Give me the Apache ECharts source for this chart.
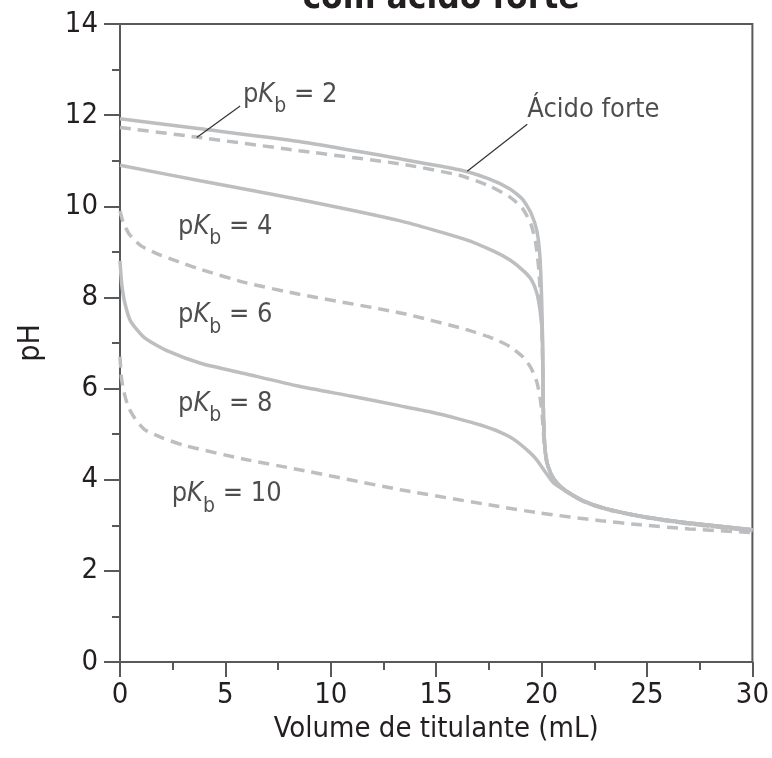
<!DOCTYPE html>
<html>
<head>
<meta charset="utf-8">
<script src="https://cdn.jsdelivr.net/npm/echarts@6/dist/echarts.min.js"></script>
<style>
  html, body { margin: 0; padding: 0; background: #fff; }
  #main { width: 772px; height: 758px; }
</style>
</head>
<body>
<div id="main"></div>
<script>
// curvas de titulação: [volume (mL), pH]
const acidoForte = [[0, 11.92], [3.8, 11.7], [8.5, 11.42], [13.3, 11.04], [16.1, 10.8], [17.5, 10.6], [18.5, 10.38], [19.1, 10.15], [19.5, 9.85], [19.78, 9.45], [19.92, 8.9], [20.0, 8.0], [20.05, 7.0], [20.08, 5.6], [20.14, 4.8], [20.24, 4.4], [20.45, 4.12], [20.75, 3.92], [21.2, 3.74], [22, 3.53], [23, 3.37], [24.7, 3.2], [27, 3.05], [30, 2.9]];
const pKb2 = [[0, 11.73], [3.6, 11.52], [8.5, 11.22], [13.3, 10.93], [16.1, 10.68], [17.5, 10.45], [18.5, 10.2], [19.1, 9.95], [19.5, 9.6], [19.72, 9.2], [19.87, 8.6], [19.97, 7.8], [20.03, 7.0], [20.08, 5.6], [20.14, 4.8], [20.24, 4.4], [20.45, 4.12], [20.75, 3.92], [21.2, 3.73], [22, 3.52], [23, 3.36], [24.7, 3.19], [27, 3.03], [30, 2.88]];
const pKb4 = [[0, 10.9], [3.8, 10.56], [8.5, 10.15], [13.3, 9.68], [16.4, 9.27], [17.7, 9.02], [18.5, 8.82], [19.1, 8.6], [19.5, 8.4], [19.77, 8.1], [19.93, 7.7], [20.03, 7.2], [20.08, 5.6], [20.14, 4.8], [20.24, 4.4], [20.45, 4.12], [20.75, 3.92], [21.2, 3.74], [22, 3.53], [23, 3.37], [24.7, 3.2], [27, 3.05], [30, 2.9]];
const pKb6 = [[0, 9.9], [0.15, 9.65], [0.45, 9.38], [1.0, 9.13], [1.8, 8.95], [2.8, 8.78], [3.8, 8.62], [5.9, 8.33], [8.5, 8.07], [13.3, 7.66], [16.4, 7.3], [17.7, 7.1], [18.5, 6.92], [19.1, 6.7], [19.5, 6.45], [19.77, 6.15], [19.93, 5.8], [20.03, 5.4], [20.09, 5.0], [20.15, 4.7], [20.24, 4.45], [20.45, 4.12], [20.75, 3.92], [21.2, 3.73], [22, 3.52], [23, 3.36], [24.7, 3.19], [27, 3.03], [30, 2.88]];
const pKb8 = [[0, 8.8], [0.08, 8.3], [0.22, 7.9], [0.5, 7.48], [1.17, 7.11], [2.28, 6.82], [3.86, 6.55], [5.9, 6.33], [8.5, 6.05], [11, 5.83], [13.3, 5.62], [14.7, 5.49], [16.1, 5.33], [17.1, 5.2], [18, 5.05], [18.7, 4.88], [19.46, 4.59], [19.8, 4.42], [20.1, 4.22], [20.57, 3.93], [21.2, 3.74], [22, 3.53], [23, 3.37], [24.7, 3.2], [27, 3.05], [30, 2.9]];
const pKb10 = [[0, 6.7], [0.06, 6.27], [0.15, 6.0], [0.38, 5.61], [0.7, 5.35], [1.17, 5.1], [2.0, 4.92], [3.07, 4.75], [5.9, 4.45], [8.5, 4.22], [13.3, 3.78], [18, 3.41], [19.9, 3.27], [22.8, 3.1], [24.7, 3.01], [27, 2.92], [30, 2.84]];

const rotulos = ['{p|p}{k|K}{s|b}{p| = 2}', 'Ácido forte', '{p|p}{k|K}{s|b}{p| = 4}', '{p|p}{k|K}{s|b}{p| = 6}', '{p|p}{k|K}{s|b}{p| = 8}', '{p|p}{k|K}{s|b}{p| = 10}'];

const FONT = '"Liberation Sans Narrow", "DejaVu Sans Condensed", sans-serif';
const CINZA = '#bcbec0';
const EIXO = '#58595b';
const TEXTO = '#231f20';

const chart = echarts.init(document.getElementById('main'));

function curva(data, tracejada) {
  return {
    type: 'line',
    data: data,
    showSymbol: false,
    symbol: 'none',
    smooth: 0.2,
    lineStyle: { color: CINZA, width: 3.5, type: tracejada ? [11, 7] : 'solid', cap: 'butt' }
  };
}

const richTxt = {
  p: { fontSize: 27, fontFamily: FONT, color: TEXTO, lineHeight: 28, verticalAlign: 'top' },
  k: { fontSize: 27, fontFamily: FONT, fontStyle: 'italic', color: TEXTO, lineHeight: 28, verticalAlign: 'top' },
  s: { fontSize: 21, fontFamily: FONT, color: TEXTO, lineHeight: 36, verticalAlign: 'bottom' }
};

const guia = { color: '#333', width: 1.2, type: 'solid' };

const option = {
  animation: false,
  backgroundColor: '#fff',
  title: {
    text: 'com ácido forte',
    left: 436,
    textAlign: 'center',
    top: -24,
    textStyle: { fontFamily: FONT, fontWeight: 'bold', fontSize: 35, color: TEXTO }
  },
  grid: {
    left: 120, right: 19, top: 24, bottom: 96,
    show: true, borderColor: EIXO, borderWidth: 2, backgroundColor: 'transparent'
  },
  xAxis: {
    type: 'value', min: 0, max: 30, interval: 5,
    name: 'Volume de titulante (mL)', nameLocation: 'middle', nameGap: 36,
    nameTextStyle: { fontFamily: FONT, fontSize: 29, color: TEXTO },
    axisLine: { show: true, lineStyle: { color: EIXO, width: 2 } },
    axisTick: { show: true, inside: false, length: 15, lineStyle: { color: EIXO, width: 2 } },
    minorTick: { show: true, splitNumber: 2, length: 8, lineStyle: { color: EIXO, width: 2 } },
    axisLabel: { fontFamily: FONT, fontSize: 29, color: TEXTO, margin: 19 },
    splitLine: { show: false }
  },
  yAxis: {
    type: 'value', min: 0, max: 14, interval: 2,
    name: 'pH', nameLocation: 'middle', nameGap: 74,
    nameTextStyle: { fontFamily: FONT, fontSize: 30, color: TEXTO },
    axisLine: { show: true, lineStyle: { color: EIXO, width: 2 } },
    axisTick: { show: true, inside: false, length: 16, lineStyle: { color: EIXO, width: 2 } },
    minorTick: { show: true, splitNumber: 2, length: 8, lineStyle: { color: EIXO, width: 2 } },
    axisLabel: { fontFamily: FONT, fontSize: 29, color: TEXTO, margin: 22 },
    splitLine: { show: false }
  },
  series: [
    Object.assign(curva(pKb10, true), { name: 'pKb = 10' }),
    Object.assign(curva(pKb8, false), { name: 'pKb = 8' }),
    Object.assign(curva(pKb6, true), { name: 'pKb = 6' }),
    Object.assign(curva(pKb4, false), { name: 'pKb = 4' }),
    Object.assign(curva(pKb2, true), {
      name: 'pKb = 2',
      markLine: {
        silent: true, symbol: ['none', 'none'], label: { show: false }, lineStyle: guia,
        data: [[{ coord: [5.7, 12.2] }, { coord: [3.64, 11.51] }]]
      }
    }),
    Object.assign(curva(acidoForte, false), {
      name: 'Ácido forte',
      markLine: {
        silent: true, symbol: ['none', 'none'], label: { show: false }, lineStyle: guia,
        data: [[{ coord: [19.32, 11.8] }, { coord: [16.47, 10.77] }]]
      }
    }),
    {
      type: 'scatter',
      symbolSize: 0,
      silent: true,
      data: [[5.83, 12.44], [19.32, 12.2], [2.75, 9.54], [2.75, 7.6], [2.75, 5.65], [2.45, 3.67]],
      label: {
        show: true,
        position: 'right',
        distance: 0,
        offset: [0, 4],
        formatter: p => rotulos[p.dataIndex],
        fontFamily: FONT, fontSize: 27, color: TEXTO,
        rich: richTxt
      }
    }
  ]
};

chart.setOption(option);
</script>
</body>
</html>
